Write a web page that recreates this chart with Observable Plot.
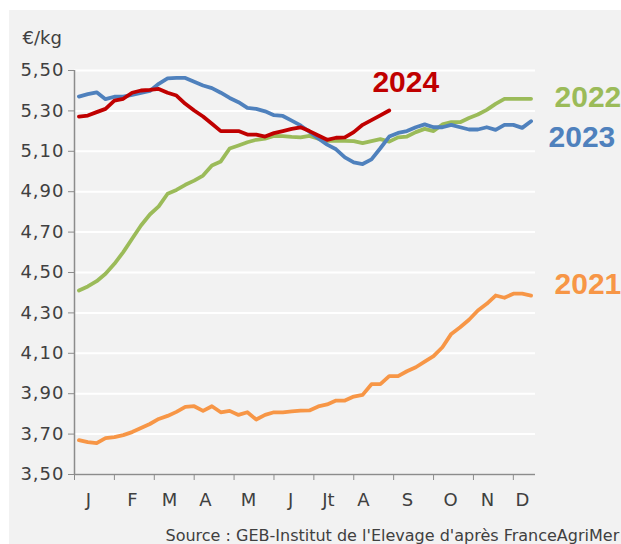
<!DOCTYPE html>
<html><head><meta charset="utf-8">
<script src="https://cdn.jsdelivr.net/npm/d3@7"></script>
<script src="https://cdn.jsdelivr.net/npm/@observablehq/plot@0.6"></script>
<style>
html,body{margin:0;padding:0;background:#fff;}
#panel{position:absolute;left:9px;top:10px;width:612px;height:534px;background:#f2f2f2;overflow:hidden;}
</style></head><body><div id="panel"></div>
<script>
const series = ["2021", "2022", "2023", "2024"];
const v2021 = [3.67,3.66,3.655,3.68,3.685,3.695,3.71,3.73,3.75,3.775,3.79,3.81,3.835,3.838,3.815,3.838,3.808,3.815,3.795,3.808,3.772,3.795,3.808,3.808,3.812,3.816,3.817,3.837,3.847,3.866,3.866,3.886,3.894,3.947,3.947,3.987,3.987,4.011,4.031,4.059,4.086,4.13,4.196,4.229,4.266,4.312,4.345,4.386,4.375,4.395,4.395,4.386];
const v2022 = [4.411,4.431,4.457,4.494,4.543,4.601,4.667,4.733,4.787,4.827,4.89,4.909,4.934,4.955,4.98,5.03,5.05,5.114,5.129,5.145,5.157,5.163,5.176,5.175,5.171,5.169,5.176,5.162,5.152,5.152,5.152,5.15,5.14,5.15,5.16,5.148,5.169,5.173,5.195,5.211,5.2,5.233,5.244,5.244,5.265,5.282,5.305,5.335,5.36,5.36,5.36,5.36];
const v2023 = [5.371,5.383,5.392,5.358,5.37,5.371,5.379,5.389,5.399,5.434,5.461,5.463,5.463,5.444,5.426,5.413,5.39,5.364,5.343,5.315,5.31,5.298,5.279,5.275,5.252,5.228,5.197,5.164,5.133,5.11,5.07,5.045,5.037,5.06,5.115,5.173,5.191,5.2,5.219,5.233,5.219,5.219,5.231,5.219,5.208,5.208,5.219,5.206,5.231,5.231,5.216,5.249];
const v2024 = [5.272,5.277,5.294,5.31,5.351,5.36,5.39,5.401,5.404,5.409,5.39,5.376,5.335,5.302,5.272,5.236,5.2,5.2,5.2,5.183,5.183,5.173,5.19,5.2,5.211,5.219,5.2,5.178,5.157,5.167,5.169,5.195,5.231,5.254,5.278,5.302];
const yTicks = [3.5,3.7,3.9,4.1,4.3,4.5,4.7,4.9,5.1,5.3,5.5];
const yTickLabels = ["3,50","3,70","3,90","4,10","4,30","4,50","4,70","4,90","5,10","5,30","5,50"];
const months = ["J","F","M","A","M","J","Jt","A","S","O","N","D"];
const monthWeeks = [1.58,6.54,10.72,14.78,19.63,24.37,28.65,32.6,37.56,42.41,46.59,50.54];
const tickWeeks = [0,4.5,9,13.5,18,22.5,27,31.5,36,40.5,45,49.5];
const unit = "€/kg";
const source = "Source : GEB-Institut de l'Elevage d'après FranceAgriMer";

const values = {"2021": v2021, "2022": v2022, "2023": v2023, "2024": v2024};
const rows = series.flatMap(s => values[s].map((v, i) => ({year: s, w: i + 0.5, v})));
const colors = ["#f79646", "#9bbb59", "#4f81bd", "#c00000"];
const labelPos = {"2021": [54.15, 4.441], "2022": [54.15, 5.366], "2023": [53.47, 5.168], "2024": [33.6, 5.44]};
const font = "'DejaVu Sans', sans-serif";
const axisGray = "#8c8c8c";
const textGray = "#404040";

const chart = Plot.plot({
  width: 612, height: 534,
  marginLeft: 65, marginRight: 86, marginTop: 60, marginBottom: 70,
  style: {background: "transparent", fontFamily: font, color: textGray, overflow: "hidden"},
  x: {domain: [0, 52]},
  y: {domain: [3.5, 5.5]},
  color: {domain: series, range: colors},
  marks: [
    Plot.gridY(yTicks, {stroke: "#ffffff", strokeOpacity: 1, strokeWidth: 2}),
    Plot.ruleY([3.5], {stroke: axisGray, strokeWidth: 1.5}),
    Plot.ruleX([0], {stroke: axisGray, strokeWidth: 1.5}),
    Plot.axisY(yTicks, {label: null, tickSize: 6, tickPadding: 4, stroke: axisGray, color: textGray, fontSize: 18,
      tickFormat: d => yTickLabels[yTicks.indexOf(d)]}),
    Plot.axisX(tickWeeks, {label: null, tickSize: 6, stroke: axisGray, tickFormat: () => ""}),
    Plot.text(months, {x: (d, i) => monthWeeks[i], frameAnchor: "bottom", dy: 26, lineAnchor: "middle", fontSize: 18, fill: textGray}),
    Plot.line(rows, {x: "w", y: "v", z: "year", stroke: "year", strokeWidth: 3.8, strokeLinejoin: "round", strokeLinecap: "round"}),
    Plot.text(series, {x: d => labelPos[d][0], y: d => labelPos[d][1], text: d => d, fill: d => d,
      textAnchor: "start", lineAnchor: "middle", fontSize: 30, fontWeight: "bold", fontFamily: "'Liberation Sans', Arial, sans-serif"}),
    Plot.text([unit], {frameAnchor: "top-left", dx: -52, dy: -32, textAnchor: "start", lineAnchor: "middle", fontSize: 18, fill: textGray}),
    Plot.text([source], {frameAnchor: "bottom-left", dx: 91, dy: 66, textAnchor: "start", lineAnchor: "bottom", fontSize: 16, fill: textGray})
  ]
});
d3.select(chart).selectAll('g[aria-label="y-axis tick label"] text').attr("letter-spacing", "1px");
document.getElementById("panel").appendChild(chart);
</script>
</body></html>
